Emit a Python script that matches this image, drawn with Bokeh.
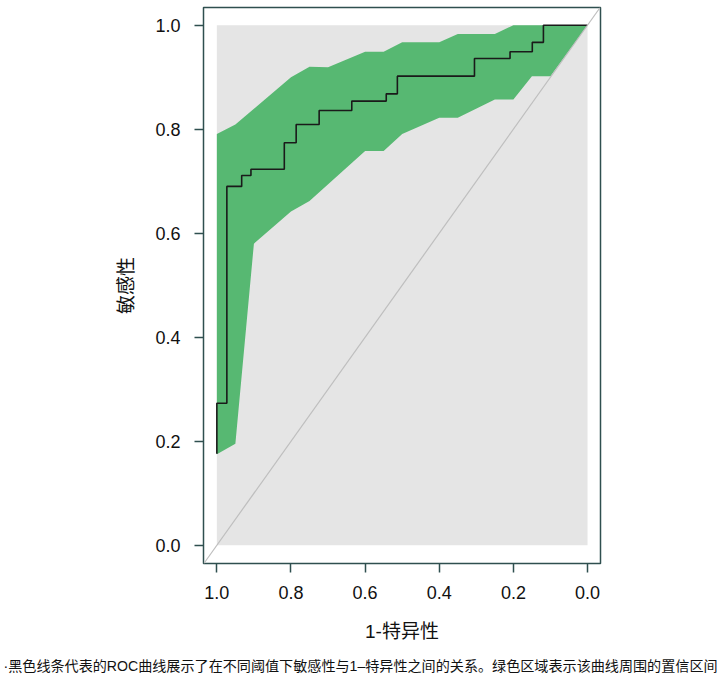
from bokeh.plotting import figure
from bokeh.models import Range1d, FixedTicker, Slope, Title
from bokeh.embed import file_html
from bokeh.resources import INLINE

# ---- data ----
# ROC curve corners (specificity, sensitivity)
roc_spec = [1.0, 1.0, 0.973, 0.973, 0.933, 0.933, 0.908, 0.908, 0.818, 0.818,
            0.786, 0.786, 0.724, 0.724, 0.636, 0.636, 0.543, 0.543, 0.513, 0.513,
            0.305, 0.305, 0.209, 0.209, 0.149, 0.149, 0.119, 0.119, 0.0]
roc_sens = [0.176, 0.273, 0.273, 0.690, 0.690, 0.711, 0.711, 0.723, 0.723, 0.774,
            0.774, 0.809, 0.809, 0.836, 0.836, 0.854, 0.854, 0.868, 0.868, 0.902,
            0.902, 0.936, 0.936, 0.949, 0.949, 0.967, 0.967, 1.0, 1.0]

# confidence band of sensitivity
ci_upper_spec = [1.00, 0.95, 0.80, 0.75, 0.70, 0.60, 0.55, 0.50, 0.40, 0.35, 0.25, 0.20, 0.00]
ci_upper_sens = [0.791, 0.809, 0.900, 0.920, 0.919, 0.949, 0.949, 0.967, 0.967, 0.983, 0.983, 1.000, 1.000]
ci_lower_spec = [1.00, 0.95, 0.90, 0.80, 0.75, 0.60, 0.55, 0.50, 0.40, 0.35, 0.25, 0.20, 0.15, 0.10, 0.00]
ci_lower_sens = [0.175, 0.195, 0.580, 0.642, 0.662, 0.758, 0.758, 0.791, 0.822, 0.822, 0.857, 0.857, 0.902, 0.902, 1.000]

unit_range = [0.0, 1.0]
tick_values = [0.0, 0.2, 0.4, 0.6, 0.8, 1.0]
tick_labels = ["0.0", "0.2", "0.4", "0.6", "0.8", "1.0"]

x_label = "1-特异性"
y_label = "敏感性"
caption = "·黑色线条代表的ROC曲线展示了在不同阈值下敏感性与1–特异性之间的关系。绿色区域表示该曲线周围的置信区间"

FONT = "Liberation Sans, Arial, Noto Sans CJK SC"
FRAME_COL = "#2F4F4F"

p = figure(width=720, height=687,
           x_range=Range1d(1.036, -0.035), y_range=Range1d(-0.035, 1.034),
           output_backend="svg", toolbar_location=None,
           min_border_left=203, min_border_right=120,
           min_border_top=7, min_border_bottom=124)

p.background_fill_color = "white"
p.border_fill_color = "white"
p.outline_line_color = FRAME_COL
p.outline_line_width = 1.5
p.grid.visible = False

# gray unit square
p.quad(left=[unit_range[1]], right=[unit_range[0]], bottom=[unit_range[0]], top=[unit_range[1]],
       fill_color="#E5E5E5", line_color=None)

# confidence band
band_x = ci_upper_spec + ci_lower_spec[::-1]
band_y = ci_upper_sens + ci_lower_sens[::-1]
p.patch(band_x, band_y, fill_color="#57B872", line_color=None)

# diagonal
p.add_layout(Slope(gradient=-1, y_intercept=1, line_color="#BEBEBE", line_width=1.2))

# ROC line
p.line(roc_spec, roc_sens, line_color="#1A1A1A", line_width=1.6)

label_map = {v: l for v, l in zip(tick_values, tick_labels)}
for ax in (p.xaxis[0], p.yaxis[0]):
    ax.ticker = FixedTicker(ticks=tick_values)
    ax.major_label_overrides = label_map
    ax.axis_line_color = None
    ax.major_tick_line_color = FRAME_COL
    ax.major_tick_line_width = 1.5
    ax.major_tick_out = 9
    ax.major_tick_in = 0
    ax.minor_tick_line_color = None
    ax.major_label_text_font = FONT
    ax.major_label_text_font_size = "18px"
    ax.major_label_text_color = "#111111"
    ax.axis_label_text_font = FONT
    ax.axis_label_text_font_size = "19px"
    ax.axis_label_text_font_style = "normal"
    ax.axis_label_text_color = "#111111"

p.xaxis[0].major_label_standoff = 13
p.xaxis[0].axis_label_standoff = 19
p.yaxis[0].major_label_standoff = 14
p.yaxis[0].axis_label_standoff = 15

p.xaxis[0].axis_label = x_label
p.yaxis[0].axis_label = y_label
p.yaxis[0].major_label_orientation = "horizontal"

p.add_layout(Title(text=caption, align="left", offset=-200, standoff=23,
                   text_font=FONT, text_font_size="14.1px", text_font_style="normal",
                   text_color="#111111"), "below")

open("out.html", "w").write(file_html(p, INLINE))
